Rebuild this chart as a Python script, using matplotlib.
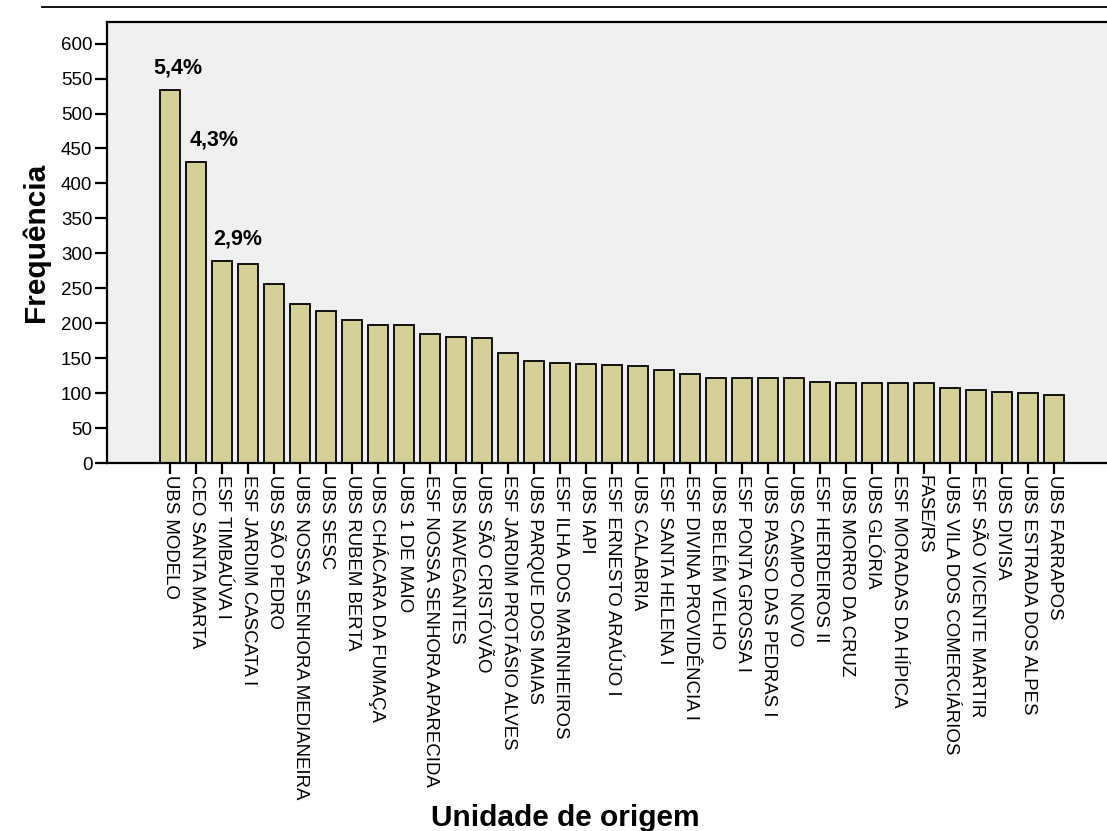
import numpy as np
import matplotlib
matplotlib.use("Agg")
import matplotlib.pyplot as plt
from matplotlib.lines import Line2D

plt.rcParams['font.family'] = ['Liberation Sans', 'DejaVu Sans']

# unidades de origem e frequencias
unidades = ["UBS MODELO", "CEO SANTA MARTA", "ESF TIMBAÚVA I", "ESF JARDIM CASCATA I",
            "UBS SÃO PEDRO", "UBS NOSSA SENHORA MEDIANEIRA", "UBS SESC", "UBS RUBEM BERTA",
            "UBS CHÁCARA DA FUMAÇA", "UBS 1 DE MAIO", "ESF NOSSA SENHORA APARECIDA",
            "UBS NAVEGANTES", "UBS SÃO CRISTÓVÃO", "ESF JARDIM PROTÁSIO ALVES",
            "UBS PARQUE DOS MAIAS", "ESF ILHA DOS MARINHEIROS", "UBS IAPI",
            "ESF ERNESTO ARAÚJO I", "UBS CALABRIA", "ESF SANTA HELENA I",
            "ESF DIVINA PROVIDÊNCIA I", "UBS BELÉM VELHO", "ESF PONTA GROSSA I",
            "UBS PASSO DAS PEDRAS I", "UBS CAMPO NOVO", "ESF HERDEIROS II",
            "UBS MORRO DA CRUZ", "UBS GLÓRIA", "ESF MORADAS DA HÍPICA", "FASE/RS",
            "UBS VILA DOS COMERCIÁRIOS", "ESF SÃO VICENTE MARTIR", "UBS DIVISA",
            "UBS ESTRADA DOS ALPES", "UBS FARRAPOS"]
frequencia = [533, 430, 289, 285, 256, 227, 218, 204, 197, 197, 184, 181, 179, 158,
              146, 143, 141, 140, 139, 133, 127, 122, 122, 121, 121, 116, 114, 114,
              114, 114, 108, 104, 101, 100, 98]
pct_labels = ["5,4%", "4,3%", "2,9%"]
yticks = np.arange(0, 601, 50)

fig = plt.figure(figsize=(11.07, 8.31), dpi=100)
ax = fig.add_axes([107/1107, 1 - 463/831, 1 - 107/1107, (463 - 22)/831])
ax.set_facecolor('#f0f0f0')

x = np.arange(len(unidades))
ax.bar(x, frequencia, width=0.77, color='#d5d098', edgecolor='black', linewidth=1.3, zorder=2)

# rotulos de percentual nas tres primeiras barras
dx = [0.31, 0.69, 0.58]
for i, lab in enumerate(pct_labels):
    ax.text(x[i] + dx[i], frequencia[i] + 17, lab, ha='center', va='bottom',
            fontsize=15.5, fontweight='bold')

ax.set_xlim(-2.43, 36.02)
ax.set_ylim(0, 631)
ax.set_yticks(yticks)
ax.set_xticks(x)
ax.set_xticklabels(unidades, rotation=270, fontsize=13.4, va='top', ha='center')
ax.tick_params(axis='y', length=9, width=1.6, pad=1.5, labelsize=13.5)
ax.tick_params(axis='x', length=8, width=1.6, pad=0.5)

for s in ['left', 'bottom', 'top']:
    ax.spines[s].set_linewidth(1.6)
ax.spines['right'].set_visible(False)

ax.set_ylabel("Frequência", fontsize=21.5, fontweight='bold', labelpad=8)
fig.text(565/1107, 1 - 818/831, "Unidade de origem", ha='center', va='center',
         fontsize=21.5, fontweight='bold')

# linha horizontal no topo
fig.add_artist(Line2D([42/1107, 1], [1 - 7/831, 1 - 7/831], color='black', linewidth=1.3))

fig.savefig("out.png", dpi=100)
